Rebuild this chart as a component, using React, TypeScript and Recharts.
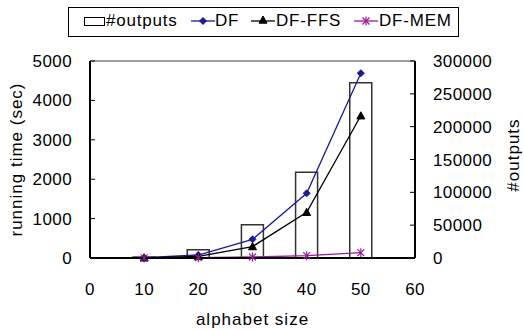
import React from 'react';
import { ComposedChart, Bar, Line, XAxis, YAxis, Legend, ReferenceLine } from 'recharts';

const alphabetSizes = [10, 20, 30, 40, 50];
const outputs = [1500, 12600, 50700, 130500, 267000];
const dfTimes = [8, 76, 474, 1642, 4690];
const dfFfsTimes = [4, 40, 290, 1160, 3610];
const dfMemTimes = [2, 10, 25, 60, 135];

const xTicks = [0, 10, 20, 30, 40, 50, 60];
const leftTicks = [0, 1000, 2000, 3000, 4000, 5000];
const rightTicks = [0, 50000, 100000, 150000, 200000, 250000, 300000];

const data = alphabetSizes.map((a, i) => ({
  size: a,
  outputs: outputs[i],
  df: dfTimes[i],
  dfffs: dfFfsTimes[i],
  dfmem: dfMemTimes[i],
}));

const FONT = '"Liberation Sans", Arial, sans-serif';
const BLUE = '#1a1a9a';
const PURPLE = '#9a1a9a';

const Diamond = (p: any) => {
  const { cx, cy } = p;
  if (cx == null || cy == null) return null;
  const s = 3.5;
  return <polygon points={`${cx},${cy - s} ${cx + s},${cy} ${cx},${cy + s} ${cx - s},${cy}`} fill={BLUE} stroke={BLUE} />;
};
const Triangle = (p: any) => {
  const { cx, cy } = p;
  if (cx == null || cy == null) return null;
  const s = 4;
  return <polygon points={`${cx},${cy - s} ${cx + s},${cy + s * 0.8} ${cx - s},${cy + s * 0.8}`} fill="#000" stroke="#000" />;
};
const Star = (p: any) => {
  const { cx, cy } = p;
  if (cx == null || cy == null) return null;
  const s = 3.5;
  return (
    <g stroke={PURPLE} strokeWidth={1.2}>
      <line x1={cx - s} y1={cy - s} x2={cx + s} y2={cy + s} />
      <line x1={cx - s} y1={cy + s} x2={cx + s} y2={cy - s} />
      <line x1={cx} y1={cy - s - 1} x2={cx} y2={cy + s + 1} />
    </g>
  );
};

const legendItems = [
  { label: '#outputs', kind: 'rect', color: '#000', icon: 15, text: 37 },
  { label: 'DF', kind: 'diamond', color: BLUE, icon: 122, text: 146 },
  { label: 'DF-FFS', kind: 'triangle', color: '#000', icon: 182, text: 207 },
  { label: 'DF-MEM', kind: 'star', color: PURPLE, icon: 285, text: 310 },
];

const LegendContent = () => (
  <div
    style={{
      boxSizing: 'border-box',
      position: 'relative',
      width: 391,
      height: 30,
      border: '1px solid #000',
      fontFamily: FONT,
      fontSize: 17,
      letterSpacing: 0.8,
      color: '#000',
      background: '#fff',
    }}
  >
    {legendItems.map((it) => (
      <React.Fragment key={it.label}>
        <svg
          width={it.kind === 'rect' ? 22 : 24}
          height={14}
          style={{ position: 'absolute', left: it.icon, top: 6 }}
        >
          {it.kind === 'rect' ? (
            <rect x={0.5} y={3.5} width={20} height={8} fill="#fff" stroke="#000" />
          ) : (
            <>
              <line x1={0} y1={7} x2={24} y2={7} stroke={it.color} strokeWidth={1.3} />
              {it.kind === 'diamond' && <Diamond cx={12} cy={7} />}
              {it.kind === 'triangle' && <Triangle cx={12} cy={6} />}
              {it.kind === 'star' && <Star cx={12} cy={7} />}
            </>
          )}
        </svg>
        <span style={{ position: 'absolute', left: it.text, top: 3, whiteSpace: 'nowrap', lineHeight: '20px' }}>{it.label}</span>
      </React.Fragment>
    ))}
  </div>
);

const tickStyle = { fontFamily: FONT, fontSize: 17, fill: '#000', letterSpacing: 0.4 };
const labelStyle = { fontFamily: FONT, fontSize: 17, fill: '#000', letterSpacing: 1 };

export default function App() {
  return (
    <div style={{ position: 'absolute', left: 0, top: 0, background: '#fff' }}>
      <ComposedChart width={524} height={330} data={data} margin={{ top: 31, right: 0, bottom: 12, left: 0 }}>
        <Legend
          verticalAlign="top"
          content={<LegendContent />}
          wrapperStyle={{ position: 'absolute', top: 7, left: 68, width: 391, height: 30 }}
        />
        <XAxis
          dataKey="size"
          type="number"
          domain={[0, 60]}
          ticks={xTicks}
          interval={0}
          tickLine={false}
          tickSize={6}
          tickMargin={19}
          height={60}
          axisLine={{ stroke: '#000', strokeWidth: 2 }}
          tick={tickStyle}
          label={{ value: 'alphabet size', position: 'insideBottom', offset: -7, style: { ...labelStyle, textAnchor: 'middle' } }}
        />
        <YAxis
          yAxisId="left"
          orientation="left"
          width={90}
          domain={[0, 5000]}
          ticks={leftTicks}
          interval={0}
          tickSize={-5}
          tickMargin={23}
          tickLine={{ stroke: '#000' }}
          axisLine={{ stroke: '#000', strokeWidth: 2 }}
          tick={tickStyle}
          label={{ value: 'running time (sec)', angle: -90, position: { x: 22, y: 98.5 } as any, style: { ...labelStyle, textAnchor: 'middle' } }}
        />
        <YAxis
          yAxisId="right"
          orientation="right"
          width={109}
          domain={[0, 300000]}
          ticks={rightTicks}
          interval={0}
          tickSize={-5}
          tickMargin={23}
          tickLine={{ stroke: '#000' }}
          axisLine={{ stroke: '#000', strokeWidth: 2 }}
          tick={tickStyle}
          label={{ value: '#outputs', angle: -90, position: { x: 104, y: 94 } as any, style: { ...labelStyle, textAnchor: 'middle' } }}
        />
        <ReferenceLine yAxisId="left" y={5000} stroke="#808080" strokeWidth={1.5} />
        <Bar yAxisId="right" dataKey="outputs" name="#outputs" barSize={22} fill="#fff" stroke="#333" strokeWidth={1.5} isAnimationActive={false} />
        <Line yAxisId="left" dataKey="df" name="DF" stroke={BLUE} strokeWidth={1.3} dot={<Diamond />} activeDot={false} isAnimationActive={false} />
        <Line yAxisId="left" dataKey="dfffs" name="DF-FFS" stroke="#000" strokeWidth={1.3} dot={<Triangle />} activeDot={false} isAnimationActive={false} />
        <Line yAxisId="left" dataKey="dfmem" name="DF-MEM" stroke={PURPLE} strokeWidth={1.3} dot={<Star />} activeDot={false} isAnimationActive={false} />
      </ComposedChart>
    </div>
  );
}
